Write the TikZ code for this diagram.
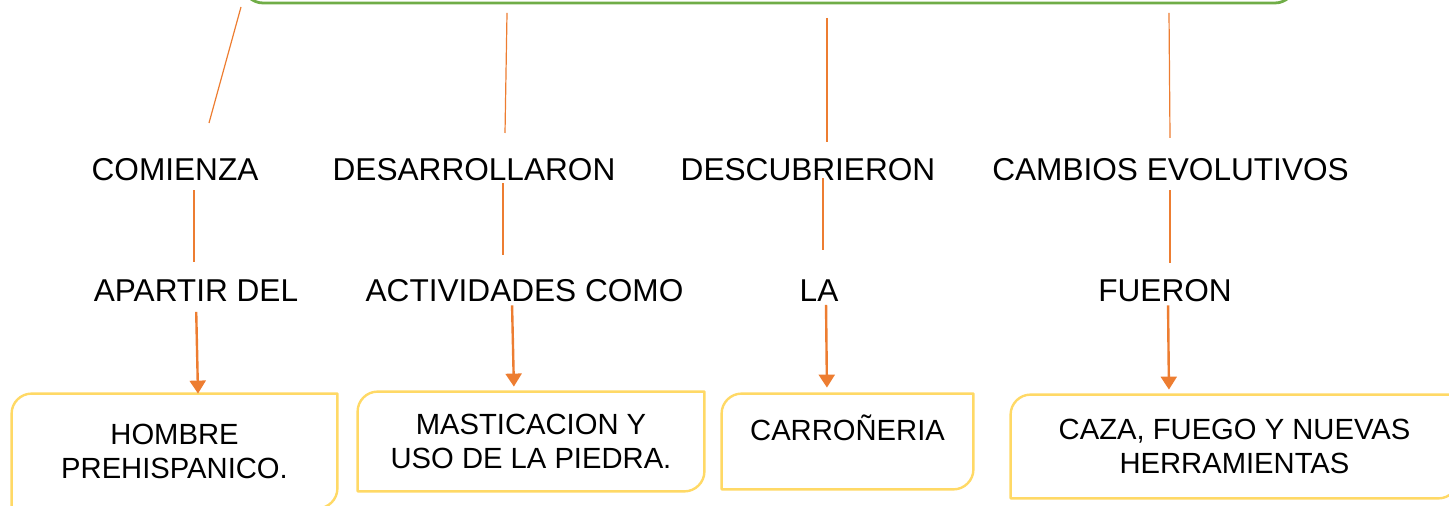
\documentclass[tikz,border=0pt]{standalone}
\usepackage{fontspec}
\setmainfont{Liberation Sans}
\usetikzlibrary{arrows.meta}
\definecolor{naranja}{HTML}{ED7D31}
\definecolor{verde}{HTML}{70AD47}
\definecolor{amarillo}{HTML}{FFD966}
% marco con esquinas redondeadas arriba-izquierda y abajo-derecha
\newcommand*{\marcocaja}[1]{%
  \draw[amarillo, line width=1.2pt, line join=round]
    ([xshift=10pt]#1.north west) -- (#1.north east) -- ([yshift=10pt]#1.south east)
    .. controls ([yshift=4.5pt]#1.south east) and ([xshift=-4.5pt]#1.south east)
    .. ([xshift=-10pt]#1.south east) -- (#1.south west)
    -- ([yshift=-10pt]#1.north west)
    .. controls ([yshift=-4.5pt]#1.north west) and ([xshift=4.5pt]#1.north west)
    .. ([xshift=10pt]#1.north west) -- cycle;}

\begin{document}
\begin{tikzpicture}[x=0.5pt, y=-0.5pt,
    every node/.style={inner sep=0pt, font=\fontsize{15.8pt}{17.5pt}\selectfont},
    enlace/.style={naranja, line width=0.6pt},
    union/.style={naranja, line width=1pt},
    flecha/.style={naranja, line width=1.2pt, -{Triangle[length=6.5pt, width=8pt]}},
    caja/.style={align=center, font=\fontsize{14.6pt}{17pt}\selectfont}]
  \useasboundingbox (0,0) rectangle (1449,506);
  \clip (0,0) rectangle (1449,506);

  \node[draw=verde, line width=1.4pt, rounded corners=10pt,
        minimum width=526pt, minimum height=40pt] (tema) at (769,-37) {};

  \foreach \n/\x/\txt in {1/175/COMIENZA, 2/474/DESARROLLARON,
                          3/808/DESCUBRIERON, 4/1170.5/CAMBIOS EVOLUTIVOS}
  {
    \node (c\n) at (\x,170) {\txt};
  }

  \foreach \n/\x/\txt in {1/196/APARTIR DEL, 2/524.5/ACTIVIDADES COMO,
                          3/819/LA, 4/1165/FUERON}
  {
    \node (a\n) at (\x,291) {\txt};
  }

  \node[caja, minimum width=162.5pt, minimum height=57pt] (b1) at (174.5,451)
    {HOMBRE\\PREHISPANICO.};
  \node[caja, minimum width=173pt, minimum height=49.5pt] (b2) at (531,441.5)
    {MASTICACION Y\\USO DE LA PIEDRA.};
  \node[caja, minimum width=125.5pt, minimum height=47.5pt,
        text height=10.5pt, text depth=11pt] (b3) at (847.5,441.5) {CARROÑERIA};
  \node[caja, minimum width=223.5pt, minimum height=51.5pt] (b4) at (1234.5,446.5)
    {CAZA, FUEGO Y NUEVAS\\HERRAMIENTAS};
  \foreach \b in {b1, b2, b3, b4}
  {
    \marcocaja{\b}
  }

  % lineas que bajan del tema
  \foreach \n/\xa/\ya/\xb/\yb in {1/241/7/209/123, 2/507/13/505/133,
                                  3/827/18/827/142, 4/1169/13/1170/138}
  {
    \coordinate (s\n) at (\xa,\ya);
    \coordinate (e\n) at (\xb,\yb);
    \draw[enlace] (s\n) -- (e\n);
  }

  \foreach \n/\dc/\da/\sa/\sb in {1/9.5/-1/4.35/8.85, 2/14.5/-10.75/0.85/12.35,
                                  3/7.5/2/-1.65/14.85, 4/-0.25/2.5/4.35/8.35}
  {
    \draw[union, shorten <=\sa pt, shorten >=\sb pt]
      ([xshift=\dc pt]c\n.south) -- ([xshift=\da pt]a\n.north);
  }

  \foreach \n/\da/\db/\sa/\sb in {1/0/11.75/4.85/0, 2/-6.25/-8.5/1.35/2.5,
                                  3/3.5/-10.25/1.35/3, 4/1.5/-32.75/1.35/2.5}
  {
    \draw[flecha, shorten <=\sa pt, shorten >=\sb pt]
      ([xshift=\da pt]a\n.south) -- ([xshift=\db pt]b\n.north);
  }
\end{tikzpicture}
\end{document}
